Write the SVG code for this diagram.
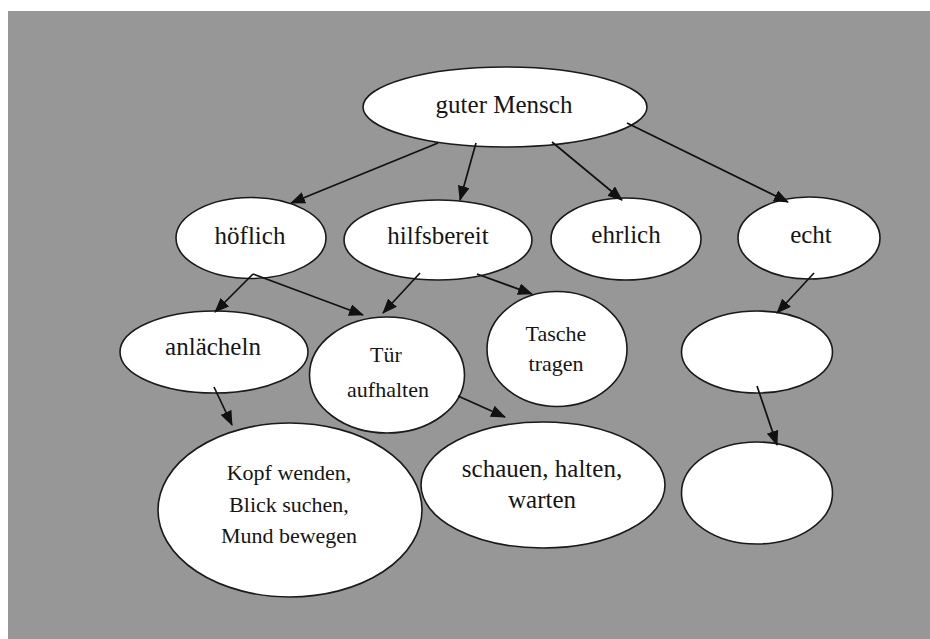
<svg xmlns="http://www.w3.org/2000/svg" width="930" height="639" viewBox="0 0 930 639">
<defs>
<style>
.n ellipse{fill:#fff;stroke:#1a1a1a;stroke-width:1.6}
.n text{font-family:"Liberation Serif","Times New Roman",serif;fill:#151515;text-anchor:middle}
.l{font-size:25px}
.s{font-size:22px}
#edges line{stroke:#111;stroke-width:1.7;marker-end:url(#ah)}
</style>
<marker id="ah" markerUnits="userSpaceOnUse" markerWidth="15" markerHeight="12" refX="14" refY="6" orient="auto">
<path d="M0,0 L15,6 L0,12 z" fill="#111"/>
</marker>
</defs>
<rect x="0" y="0" width="930" height="639" fill="#fff"/>
<rect x="8" y="11" width="922" height="628" fill="#979797"/>
<g id="n-guter" class="n"><ellipse cx="505" cy="107" rx="142" ry="40"/><text class="l" x="504" y="113">guter Mensch</text></g>
<g id="n-hoeflich" class="n"><ellipse cx="251" cy="238" rx="75" ry="40.5"/><text class="l" x="250" y="244">höflich</text></g>
<g id="n-hilfsbereit" class="n"><ellipse cx="438" cy="240" rx="94" ry="40"/><text class="l" x="438" y="244">hilfsbereit</text></g>
<g id="n-ehrlich" class="n"><ellipse cx="626" cy="239" rx="75" ry="41"/><text class="l" x="626" y="243">ehrlich</text></g>
<g id="n-echt" class="n"><ellipse cx="809" cy="238" rx="71" ry="41"/><text class="l" x="811" y="243">echt</text></g>
<g id="n-anlaecheln" class="n"><ellipse cx="214" cy="352" rx="94" ry="41"/><text class="l" x="213" y="355">anlächeln</text></g>
<g id="n-tuer" class="n"><ellipse cx="387" cy="375" rx="77.5" ry="58"/><text class="s" x="386" y="362">Tür</text><text class="s" x="388" y="397">aufhalten</text></g>
<g id="n-tasche" class="n"><ellipse cx="557" cy="349" rx="70" ry="57.5"/><text class="s" x="556" y="341">Tasche</text><text class="s" x="556" y="371">tragen</text></g>
<g id="n-empty1" class="n"><ellipse cx="757" cy="352" rx="75.5" ry="41"/></g>
<g id="n-kopf" class="n"><ellipse cx="290" cy="510" rx="132" ry="87"/><text class="s" x="289" y="480">Kopf wenden,</text><text class="s" x="289" y="512">Blick suchen,</text><text class="s" x="289" y="543">Mund bewegen</text></g>
<g id="n-schauen" class="n"><ellipse cx="543" cy="485" rx="122" ry="63"/><text class="l" x="542" y="477">schauen, halten,</text><text class="l" x="542" y="508">warten</text></g>
<g id="n-empty2" class="n"><ellipse cx="757" cy="493" rx="75.5" ry="51"/></g>
<g id="edges">
<line x1="438" y1="143" x2="291" y2="203"/>
<line x1="476" y1="143" x2="460" y2="200"/>
<line x1="552" y1="142" x2="622" y2="200"/>
<line x1="627" y1="123" x2="788" y2="202"/>
<line x1="253" y1="274" x2="215" y2="312"/>
<line x1="253" y1="274" x2="363" y2="315"/>
<line x1="420" y1="273" x2="383" y2="313"/>
<line x1="477" y1="274" x2="532" y2="294"/>
<line x1="214" y1="387" x2="232" y2="425"/>
<line x1="458" y1="396" x2="505" y2="417"/>
<line x1="814" y1="273" x2="777" y2="313"/>
<line x1="757" y1="386" x2="777" y2="445"/>
</g>
</svg>
